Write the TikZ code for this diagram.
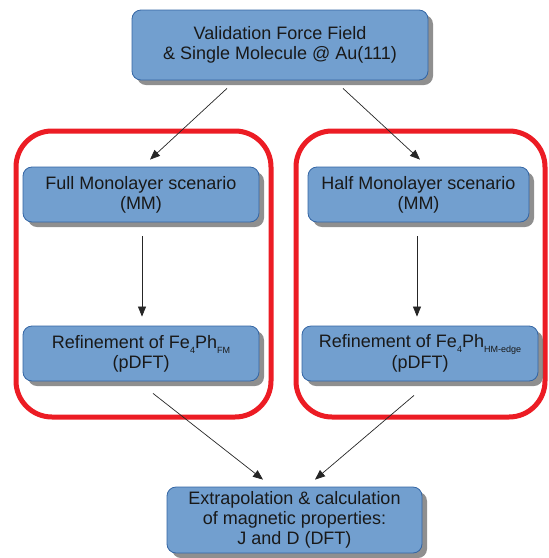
\documentclass[tikz,border=0pt]{standalone}
\usepackage{fontspec}
\setmainfont{Liberation Sans}
\usetikzlibrary{arrows.meta,shadows}
\definecolor{boxfill}{HTML}{729FCF}
\definecolor{boxline}{HTML}{3465A4}
\definecolor{framered}{HTML}{EC1C24}
\newcommand{\subtxt}[1]{\raisebox{-0.55ex}{\fontsize{9}{9}\selectfont #1}}
\tikzset{
  bluebox/.style={draw=boxline, line width=0.8pt, fill=boxfill, rounded corners=9pt,
    text=black!90, align=center, inner sep=0pt,
    font=\fontsize{18}{20}\selectfont,
    drop shadow={shadow xshift=5pt, shadow yshift=-5pt, fill=black!55, opacity=0.8}},
  redframe/.style={draw=framered, line width=5pt, rounded corners=36pt, inner sep=0pt},
  arr/.style={draw=black!85, line width=0.7pt, -{Triangle[length=10pt,width=8pt]}}
}
\begin{document}
\begin{tikzpicture}[x=1pt,y=-1pt]
\useasboundingbox (0,0) rectangle (549,558);
\node[redframe, minimum width=255pt, minimum height=286pt] (frameL) at (143.5,274) {};
\node[redframe, minimum width=249pt, minimum height=286pt] (frameR) at (420.5,274) {};
\node[bluebox, minimum width=296pt, minimum height=70pt] (top) at (280,45)
  {Validation Force Field\\ \& Single Molecule @ Au(111)};
\node[bluebox, minimum width=236pt, minimum height=55pt] (full) at (141,194.5)
  {Full Monolayer scenario\\ (MM)};
\node[bluebox, minimum width=221pt, minimum height=55pt] (half) at (418.5,194.5)
  {Half Monolayer scenario\\ (MM)};
\node[bluebox, minimum width=236pt, minimum height=55pt] (reffm) at (141,353.5)
  {Refinement of Fe\subtxt{4}Ph\subtxt{FM}\\ (pDFT)};
\node[bluebox, minimum width=236pt, minimum height=55pt] (refhm) at (420,353.5)
  {Refinement of Fe\subtxt{4}Ph\subtxt{HM-edge}\\ (pDFT)};
\node[bluebox, minimum width=255pt, minimum height=66pt] (bot) at (294.5,520)
  {Extrapolation \& calculation\\ of magnetic properties:\\ J and D (DFT)};
\draw[arr] ([xshift=-53pt,yshift=-8pt]top.south) -- ([xshift=9pt,yshift=7pt]full.north);
\draw[arr] ([xshift=63pt,yshift=-8pt]top.south) -- ([xshift=1.5pt,yshift=7pt]half.north);
\draw[arr] ([xshift=1pt,yshift=-14pt]full.south) -- ([xshift=1pt,yshift=9pt]reffm.north);
\draw[arr] ([xshift=-1.5pt,yshift=-14pt]half.south) -- ([xshift=-3pt,yshift=9pt]refhm.north);
\draw[arr] ([xshift=12pt,yshift=-12pt]reffm.south) -- ([xshift=-31.5pt,yshift=7pt]bot.north);
\draw[arr] ([xshift=-6pt,yshift=-14pt]refhm.south) -- ([xshift=20.5pt,yshift=7pt]bot.north);
\end{tikzpicture}
\end{document}
